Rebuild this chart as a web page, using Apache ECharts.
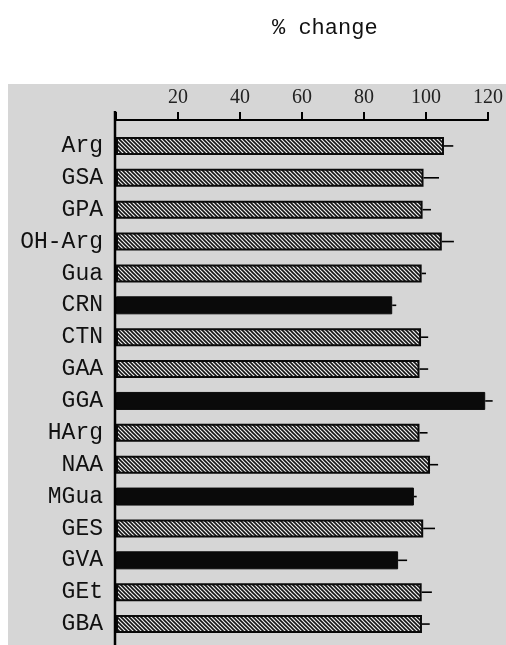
<!DOCTYPE html>
<html><head><meta charset="utf-8">
<script src="https://cdn.jsdelivr.net/npm/echarts@6/dist/echarts.min.js"></script>
<style>html,body{margin:0;padding:0;background:#fff}#c{width:506px;height:645px}</style></head>
<body><div id="c"></div><script>
const categories = ['Arg','GSA','GPA','OH-Arg','Gua','CRN','CTN','GAA','GGA','HArg','NAA','MGua','GES','GVA','GEt','GBA'];
const values = [105.8,99.2,98.9,105.1,98.6,89.1,98.4,97.9,119.1,97.9,101.3,96.1,99.1,91.0,98.6,98.7];
const errors = [3.0,5.0,2.7,3.9,1.4,1.3,2.3,2.8,2.4,2.6,2.6,0.9,3.8,2.9,3.3,2.5];
const solidBars = ['CRN','GGA','MGua','GVA'];
const xTicks = [20,40,60,80,100,120];

// hatch pattern
const pc = document.createElement('canvas');
pc.width = 4; pc.height = 4;
const g = pc.getContext('2d');
g.fillStyle = '#f0f0f0'; g.fillRect(0,0,4,4);
g.strokeStyle = '#151515'; g.lineWidth = 1.6;
for (let k = -1; k <= 1; k++) {
  g.beginPath(); g.moveTo(k*4 - 1, -1); g.lineTo(k*4 + 5, 5); g.stroke();
}
const hatch = {image: pc, repeat: 'repeat'};

const chart = echarts.init(document.getElementById('c'), null, {renderer:'canvas'});
const option = {
  animation: false,
  backgroundColor: '#ffffff',
  title: {
    text: '% change', left: 267, top: 12,
    textStyle: {fontFamily: 'Liberation Mono', fontSize: 22, fontWeight: 'normal', color: '#111'}
  },
  grid: {left: 116, right: 13, top: 130, bottom: 5, containLabel: false},
  xAxis: {
    type: 'value', position: 'top', offset: 10, min: 0, max: 120, interval: 20,
    axisLine: {show: true, lineStyle: {color: '#000', width: 2}},
    axisTick: {show: true, length: 8, lineStyle: {color: '#000', width: 2}},
    splitLine: {show: false},
    axisLabel: {
      margin: 12, fontFamily: 'Liberation Serif', fontSize: 20, color: '#222',
      formatter: v => xTicks.includes(v) ? String(v) : ''
    }
  },
  yAxis: {
    type: 'category', inverse: true, data: categories,
    axisLine: {show: false},
    axisTick: {show: false},
    axisLabel: {margin: 13, fontFamily: 'Liberation Mono', fontSize: 23, color: '#111'}
  },
  series: [
    {
      type: 'bar', barWidth: 18,
      data: categories.map((c, i) => ({
        value: values[i],
        itemStyle: solidBars.includes(c)
          ? {color: '#0a0a0a', borderColor: '#0a0a0a', borderWidth: 1}
          : {color: hatch, borderColor: '#0a0a0a', borderWidth: 2}
      })),
      z: 3
    },
    {
      type: 'custom',
      data: categories.map((c, i) => [values[i], i, errors[i]]),
      encode: {x: 0, y: 1},
      renderItem: function (params, api) {
        const v = api.value(0), i = api.value(1), e = api.value(2);
        const p0 = api.coord([v, i]);
        const p1 = api.coord([v + e, i]);
        return {type: 'line', shape: {x1: p0[0], y1: p0[1], x2: p1[0], y2: p1[1]}, style: {stroke: '#000', lineWidth: 1.6}};
      },
      z: 4
    }
  ]
};
chart.setOption(option);
const x0 = chart.convertToPixel({xAxisIndex: 0}, 0);
chart.setOption({
  graphic: [
    {type: 'rect', z: -10, silent: true, shape: {x: 8, y: 84, width: 498, height: 561}, style: {fill: '#d6d6d6'}},
    {type: 'line', z: 10, silent: true, shape: {x1: x0 - 1, y1: 111, x2: x0 - 1, y2: 645}, style: {stroke: '#000', lineWidth: 2.5}}
  ]
});
</script></body></html>
